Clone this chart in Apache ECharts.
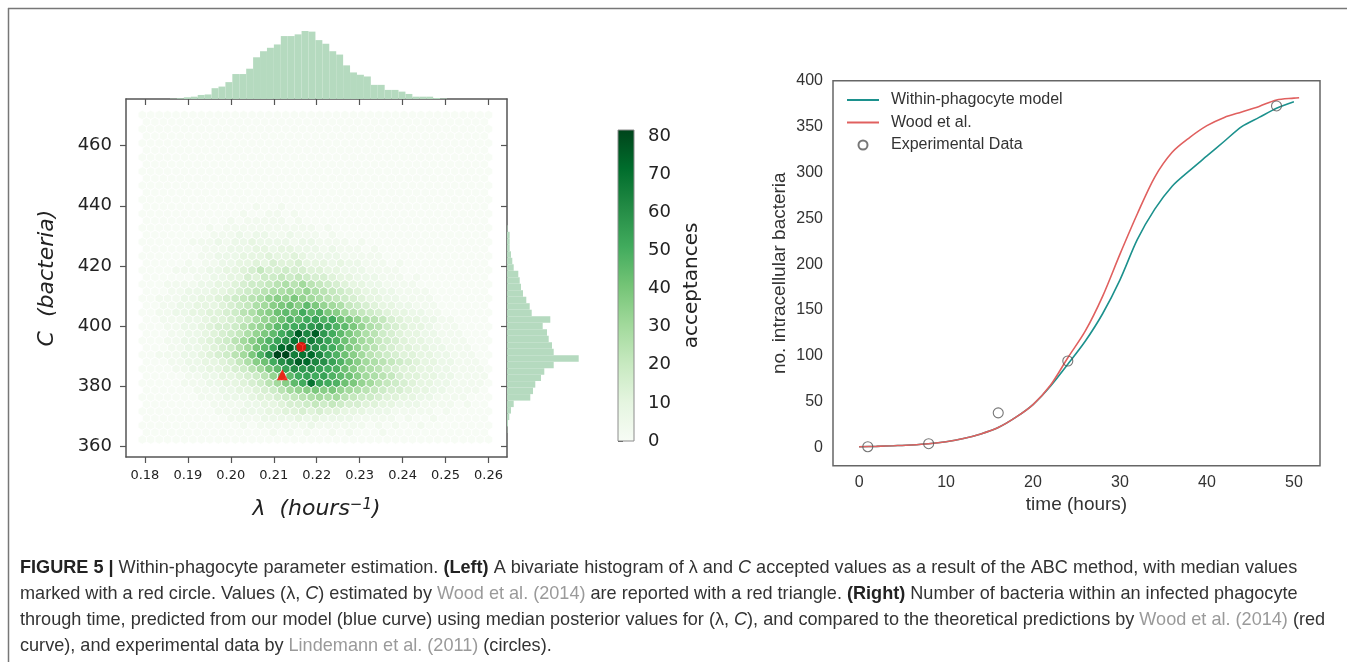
<!DOCTYPE html>
<html><head><meta charset="utf-8">
<script src="https://cdn.jsdelivr.net/npm/echarts@6/dist/echarts.min.js"></script>
<style>html,body{margin:0;padding:0;background:#fff}#c{width:1355px;height:662px}</style>
</head><body><div id="c"></div>
<script>
// ---------------- DATA ----------------
const lambdaTicks = [0.18, 0.19, 0.20, 0.21, 0.22, 0.23, 0.24, 0.25, 0.26];
const cTicks = [360, 380, 400, 420, 440, 460];
const colorTicks = [0, 10, 20, 30, 40, 50, 60, 70, 80];
const timeTicks = [0, 10, 20, 30, 40, 50];
const countTicks = [0, 50, 100, 150, 200, 250, 300, 350, 400];

// hexbin lattice (matplotlib style, gridsize 41): data extents
const hexLambdaRange = [0.1794, 0.2600];
const hexCRange = [362.3, 470.2];
const hexGrid = [41, 23];
// hex counts, rows from top (C high) to bottom; each char = base36 value, count = value*3
const hexRows = [
'000000000000000000000000000000000000000000',
'00000000000000000000000000000000000000000',
'000000000000000000000000000000000000000000',
'00000000000000000000000000000000000000000',
'000000000000000000000000000000000000000000',
'00000000000000000000000000000000000000000',
'000000000000000000000000000000000000000000',
'00000000000000000000000000000000000000000',
'000000000000000000000000000000000000000000',
'00000000000000000000000000000000000000000',
'000000000000000000000000000000000000000000',
'00000000000000000000000000000000000000000',
'000000000000000000000000000000000000000000',
'00000000000001001000000000000000000000000',
'000000000000100110100000000000000000000000',
'00000000001011111010000000000000000000000',
'000000001011111111111010000000000000000000',
'00000000111212211211101000000000000000000',
'000000111212232222122111101000000000000000',
'0000000111222332332221211101000000000000',
'00000001122233343343222211111000000000000',
'0000010112233435445333232211101000000000',
'000011112233457556554433222111100000000000',
'000000112233546676765543322211101000000',
'0001111223345667898a87654332211110000000',
'00011222334567899a9b987654332211110000',
'001112233456789bcbdba987654332211110000000',
'00112233345679acdecfdba976543322111000',
'00112233445689bcefehfgdca876543322110000',
'00111223445679bcegfhighedb98754332211000',
'0001122345568abdfghijkigfdb98654332111000',
'0001122345679bdfhjplpjhfdb986543322111',
'000112234568acegiknlmkigeca976543322111000',
'000112234568adfioplmkihfdb9865443322111',
'001112234568adgkrrmnoligeca8765443322111',
'0001122334579cehkmpolkigeca9876543322111',
'00001122334568adfikjkihgeca98654433221111',
'000001122334568bdfhihigfeca98754433221111',
'0000011122334568acfhnihgedba87654332211110',
'00000011122334568abcdcdba9876554332211110',
'000000011122234456789a9a87665443322111100',
'000000001111223345567676554433222111101',
'00000000011122233445454433322211111010',
'000000000011112222323222211111010010',
'0000000000001011111121111110101001',
'0000000000000001010100101000100000000000',
'000000000000000000000000000000000000000000'
];
// marginal histograms (50 bins each, counts)
const lambdaHist = [0,0,0,0,3,7,17,23,40,45,107,123,167,247,247,300,413,473,507,540,623,623,640,673,667,583,547,473,440,333,263,240,223,140,140,90,90,73,50,23,23,23,10,5,0,0,0,0,0,0];
const cHist = [0,3,10,23,40,67,233,260,283,340,373,467,717,467,450,417,400,357,433,247,227,193,160,140,127,113,67,53,40,27,27,27,5,0,0,0,0,0,0,0,0,0,0,0,0,0,0,0,0,0];
const medianPoint = [0.2164, 393.1];
const woodPoint = [0.2120, 383.8];
const colorMax = 81.6;

// right panel
const modelTime = [0,2,4,6,8,10,12,14,16,18,20,22,24,26,28,30,32,34,36,38,40,42,44,46,48,50];
const modelValues = [1,1.5,2.2,3,4.3,6.5,10,15,22,33,47,67,91,116,146,183,227,260,285,302,318,334,350,360,370,377];
const woodTime = [0,2,4,6,8,10,12,14,16,18,20,22,24,26,28,30,32,34,36,38,40,42,44,46,48,50,50.6];
const woodValues = [1,1.5,2.2,3,4.3,6.5,10,15,22,33,47,68,98,127,165,211,255,295,322,338,351,360,366,372,379,381,381.5];
const expTime = [1, 8, 16, 24, 48];
const expValues = [1.1, 4.4, 38, 94.5, 372.5];

const greens = ['#f7fcf5','#e5f5e0','#c7e9c0','#a1d99b','#74c476','#41ab5d','#238b45','#006d2c','#00441b'];

// ---------------- BUILD ----------------
const [lamMin, lamMax] = hexLambdaRange;
const [cMin, cMax] = hexCRange;
const nx = hexGrid[0], ny = hexGrid[1];
const sx = (lamMax - lamMin) / nx, sy = (cMax - cMin) / ny;
const hexCells = [];
hexRows.forEach((row, idx) => {
  const r = hexRows.length - 1 - idx;
  const odd = r % 2 === 1;
  const nCols = odd ? nx : nx + 1;
  for (let i = 0; i < nCols; i++) {
    const ch = row[i] || '0';
    hexCells.push([lamMin + (i + (odd ? 0.5 : 0)) * sx, cMin + r * sy / 2, parseInt(ch, 36) * 3]);
  }
});
const lbw = (lamMax - lamMin) / lambdaHist.length;
const cbw = (cMax - cMin) / cHist.length;
const lamHistData = lambdaHist.map((v, k) => [lamMin + k * lbw, lamMin + (k + 1) * lbw, v]);
const cHistData = cHist.map((v, k) => [cMin + k * cbw, cMin + (k + 1) * cbw, v]);

const DJ = 'DejaVu Sans', LS = 'Liberation Sans';
const axisGray = '#555';

function renderHex(params, api) {
  const c = api.coord([api.value(0), api.value(1)]);
  const s = api.size([sx, sy]);
  const w = s[0] / 2, h = s[1] / 3, h2 = s[1] / 6;
  return {
    type: 'polygon',
    shape: { points: [[c[0], c[1] - h], [c[0] + w, c[1] - h2], [c[0] + w, c[1] + h2], [c[0], c[1] + h], [c[0] - w, c[1] + h2], [c[0] - w, c[1] - h2]] },
    style: { fill: api.visual('color'), stroke: '#ffffff', lineWidth: 0.8 }
  };
}
function renderTopBar(params, api) {
  const p0 = api.coord([api.value(0), 0]);
  const p1 = api.coord([api.value(1), api.value(2)]);
  return { type: 'rect', shape: { x: p0[0], y: p1[1], width: p1[0] - p0[0], height: p0[1] - p1[1] }, style: { fill: '#b5dabf' } };
}
function renderRightBar(params, api) {
  const p0 = api.coord([0, api.value(0)]);
  const p1 = api.coord([api.value(2), api.value(1)]);
  return { type: 'rect', shape: { x: p0[0], y: p1[1], width: p1[0] - p0[0], height: p0[1] - p1[1] }, style: { fill: '#b5dabf' } };
}
function renderColorbar(params, api) {
  const p0 = api.coord([0, 0]);
  const p1 = api.coord([1, colorMax]);
  return {
    type: 'rect',
    shape: { x: p0[0], y: p1[1], width: p1[0] - p0[0], height: p0[1] - p1[1] },
    style: {
      fill: { type: 'linear', x: 0, y: 1, x2: 0, y2: 0, colorStops: greens.map((c, i) => ({ offset: i / (greens.length - 1), color: c })) },
      stroke: '#8c8c8c', lineWidth: 1
    }
  };
}

const capFont = 18.1;
const capRich = {
  b: { fontFamily: LS, fontSize: capFont, fontWeight: 'bold', fill: '#222' },
  i: { fontFamily: LS, fontSize: capFont, fontStyle: 'italic', fill: '#333' },
  g: { fontFamily: LS, fontSize: capFont, fill: '#9a9a9a' },
  n: { fontFamily: LS, fontSize: capFont, fill: '#333' }
};
function capLine(y, text) {
  return { type: 'text', x: 20, y: y, style: { text: text, fontFamily: LS, fontSize: capFont, fill: '#333', verticalAlign: 'middle', rich: capRich } };
}

const hidden = { show: false };
const noSymbol = { opacity: 0, borderWidth: 0 };
const option = {
  animation: false,
  grid: [
    { left: 126, top: 99, width: 381, height: 358 },
    { left: 126, top: 29, width: 381, height: 70 },
    { left: 507, top: 99, width: 73, height: 358 },
    { left: 618, top: 130, width: 16, height: 311 },
    { left: 833, top: 80.7, width: 487, height: 385, show: true, borderColor: '#666', borderWidth: 1.5, backgroundColor: 'transparent' }
  ],
  xAxis: [
    { type: 'value', gridIndex: 0, min: 0.1756, max: 0.2643,
      axisLine: { lineStyle: { color: axisGray, width: 1.5 } },
      axisTick: { show: true, customValues: lambdaTicks, length: 6, lineStyle: { color: axisGray, width: 1.2 } },
      axisLabel: { customValues: lambdaTicks, formatter: v => v.toFixed(2), fontFamily: DJ, fontSize: 13, color: '#222', margin: 12 },
      splitLine: hidden,
      name: 'λ  (hours{s|−1})', nameLocation: 'middle', nameGap: 41,
      nameTextStyle: { fontFamily: DJ, fontSize: 22, fontStyle: 'italic', color: '#222',
        rich: { s: { fontFamily: DJ, fontSize: 15, color: '#222', verticalAlign: 'top' } } } },
    { type: 'value', gridIndex: 1, min: 0.1756, max: 0.2643, position: 'bottom',
      axisLine: { lineStyle: { color: axisGray, width: 1.5 } },
      axisTick: { show: true, customValues: lambdaTicks, length: 6, lineStyle: { color: axisGray, width: 1.2 } },
      axisLabel: hidden, splitLine: hidden },
    { type: 'value', gridIndex: 2, min: 0, max: 730, show: false },
    { type: 'value', gridIndex: 3, min: 0, max: 1, show: false },
    { type: 'value', gridIndex: 4, min: -3, max: 53,
      axisLine: hidden, axisTick: hidden, splitLine: hidden,
      axisLabel: { customValues: timeTicks, fontFamily: LS, fontSize: 16, color: '#333', margin: 9 },
      name: 'time (hours)', nameLocation: 'middle', nameGap: 30,
      nameTextStyle: { fontFamily: LS, fontSize: 19, color: '#333' } }
  ],
  yAxis: [
    { type: 'value', gridIndex: 0, min: 356.5, max: 475.5,
      axisLine: { lineStyle: { color: axisGray, width: 1.5 } },
      axisTick: { show: true, customValues: cTicks, length: 6, lineStyle: { color: axisGray, width: 1.2 } },
      axisLabel: { customValues: cTicks, fontFamily: DJ, fontSize: 18, color: '#222', margin: 14 },
      splitLine: hidden,
      name: 'C  (bacteria)', nameLocation: 'middle', nameGap: 68, nameRotate: 90,
      nameTextStyle: { fontFamily: DJ, fontSize: 22, fontStyle: 'italic', color: '#222' } },
    { type: 'value', gridIndex: 1, min: 0, max: 693, show: false },
    { type: 'value', gridIndex: 2, min: 356.5, max: 475.5, position: 'left',
      axisLine: { lineStyle: { color: axisGray, width: 1.5 } },
      axisTick: { show: true, customValues: cTicks, length: 6, lineStyle: { color: axisGray, width: 1.2 } },
      axisLabel: hidden, splitLine: hidden },
    { type: 'value', gridIndex: 3, min: 0, max: colorMax, position: 'right',
      axisLine: hidden, splitLine: hidden,
      axisTick: { show: true, customValues: colorTicks, length: 5, lineStyle: { color: axisGray } },
      axisLabel: { customValues: colorTicks, fontFamily: DJ, fontSize: 18, color: '#222', margin: 14 },
      name: 'acceptances', nameLocation: 'middle', nameRotate: 90, nameGap: 48,
      nameTextStyle: { fontFamily: DJ, fontSize: 20, color: '#222' } },
    { type: 'value', gridIndex: 4, min: -19.6, max: 400,
      axisLine: hidden, axisTick: hidden, splitLine: hidden,
      axisLabel: { customValues: countTicks, fontFamily: LS, fontSize: 16, color: '#333', margin: 10 },
      name: 'no. intracellular bacteria', nameLocation: 'middle', nameGap: 44, nameRotate: 90,
      nameTextStyle: { fontFamily: LS, fontSize: 19, color: '#333' } }
  ],
  visualMap: { show: false, type: 'continuous', seriesIndex: 0, dimension: 2, min: 0, max: colorMax, inRange: { color: greens } },
  legend: {
    orient: 'vertical', left: 846, top: 92, padding: 0, itemWidth: 32, itemHeight: 9, itemGap: 6.5,
    selectedMode: false,
    textStyle: { fontFamily: LS, fontSize: 16, color: '#333', lineHeight: 16, padding: [0, 0, 0, 7] },
    data: [
      { name: 'Within-phagocyte model', itemStyle: noSymbol },
      { name: 'Wood et al.', itemStyle: noSymbol },
      { name: 'Experimental Data' }
    ]
  },
  series: [
    { type: 'custom', name: 'hex', xAxisIndex: 0, yAxisIndex: 0, renderItem: renderHex, data: hexCells, encode: { x: 0, y: 1 }, silent: true },
    { type: 'scatter', xAxisIndex: 0, yAxisIndex: 0, data: [medianPoint], symbol: 'circle', symbolSize: 10, itemStyle: { color: '#ff0000' }, z: 5, silent: true },
    { type: 'scatter', xAxisIndex: 0, yAxisIndex: 0, data: [woodPoint], symbol: 'triangle', symbolSize: 11, itemStyle: { color: '#ff0000' }, z: 5, silent: true },
    { type: 'custom', xAxisIndex: 1, yAxisIndex: 1, renderItem: renderTopBar, data: lamHistData, encode: { x: [0, 1], y: 2 }, silent: true },
    { type: 'custom', xAxisIndex: 2, yAxisIndex: 2, renderItem: renderRightBar, data: cHistData, encode: { x: 2, y: [0, 1] }, silent: true },
    { type: 'custom', xAxisIndex: 3, yAxisIndex: 3, renderItem: renderColorbar, data: [[0, colorMax]], silent: true },
    { type: 'line', name: 'Within-phagocyte model', xAxisIndex: 4, yAxisIndex: 4, data: modelTime.map((t, i) => [t, modelValues[i]]),
      symbol: 'none', smooth: 0.3, lineStyle: { color: '#1c918d', width: 1.6 }, itemStyle: { color: '#1c918d' } },
    { type: 'line', name: 'Wood et al.', xAxisIndex: 4, yAxisIndex: 4, data: woodTime.map((t, i) => [t, woodValues[i]]),
      symbol: 'none', smooth: 0.3, lineStyle: { color: '#e0605f', width: 1.6 }, itemStyle: { color: '#e0605f' } },
    { type: 'scatter', name: 'Experimental Data', xAxisIndex: 4, yAxisIndex: 4, data: expTime.map((t, i) => [t, expValues[i]]),
      symbol: 'circle', symbolSize: 10, itemStyle: { color: 'rgba(255,255,255,0)', borderColor: '#555', borderWidth: 1.1 }, z: 4 }
  ],
  graphic: [
    { type: 'line', shape: { x1: 8, y1: 8.5, x2: 1347, y2: 8.5 }, style: { stroke: '#777', lineWidth: 1.5 } },
    { type: 'line', shape: { x1: 8.5, y1: 8, x2: 8.5, y2: 662 }, style: { stroke: '#777', lineWidth: 1.5 } },
    capLine(568, '{b|FIGURE 5 |}{n| Within-phagocyte parameter estimation. }{b|(Left)}{n| A bivariate histogram of λ and }{i|C}{n| accepted values as a result of the ABC method, with median values}'),
    capLine(594, '{n|marked with a red circle. Values (λ, }{i|C}{n|) estimated by }{g|Wood et al. (2014)}{n| are reported with a red triangle. }{b|(Right)}{n| Number of bacteria within an infected phagocyte}'),
    capLine(620, '{n|through time, predicted from our model (blue curve) using median posterior values for (λ, }{i|C}{n|), and compared to the theoretical predictions by }{g|Wood et al. (2014)}{n| (red}'),
    capLine(646, '{n|curve), and experimental data by }{g|Lindemann et al. (2011)}{n| (circles).}')
  ]
};
const chart = echarts.init(document.getElementById('c'), null, { renderer: 'canvas' });
chart.setOption(option);
</script></body></html>
